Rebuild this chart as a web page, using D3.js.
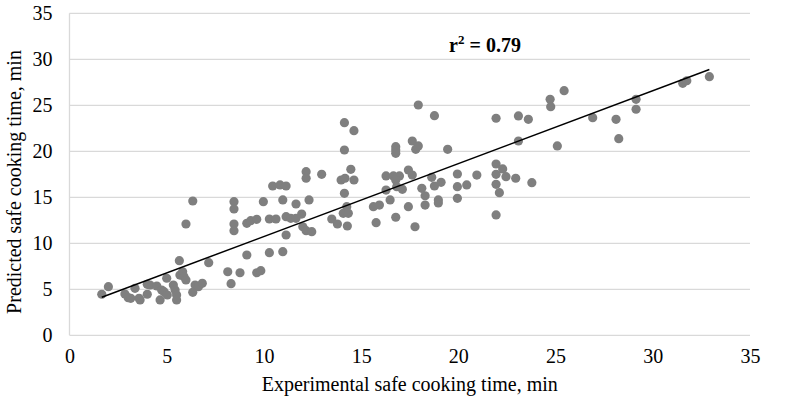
<!DOCTYPE html>
<html>
<head>
<meta charset="utf-8">
<script src="https://cdn.jsdelivr.net/npm/d3@7/dist/d3.min.js"></script>
<style>
html,body{margin:0;padding:0;background:#fff;}
svg{display:block;}
</style>
</head>
<body>
<svg id="chart" width="800" height="403"></svg>
<script>
// Experimental (x) and predicted (y) safe cooking times, min
const experimental = [
1.66,2.00,2.85,3.02,3.15,3.37,3.58,3.63,4.00,4.00,4.14,4.49,4.66,4.74,4.86,5.00,5.03,5.34,5.43,5.51,
5.51,5.65,5.68,5.82,5.89,5.99,6.34,6.46,6.63,6.83,7.16,8.14,8.31,8.77,6.34,5.99,8.46,8.46,8.46,8.46,
9.12,9.32,9.63,9.97,10.28,10.62,10.45,10.83,11.14,10.97,11.14,11.38,11.65,11.94,11.65,12.00,12.17,12.17,12.32,12.97,
13.49,13.78,14.14,14.63,14.14,13.97,14.17,14.47,14.63,14.14,14.26,14.08,14.34,14.29,15.63,15.94,15.77,16.28,16.66,16.97,
16.28,16.49,16.78,16.78,16.78,16.78,16.83,17.12,16.78,17.43,17.43,12.17,12.46,11.14,9.12,10.28,10.97,9.63,9.84,
17.94,18.77,17.63,17.81,17.94,19.45,17.63,18.12,18.29,18.29,18.63,18.77,19.11,18.97,18.97,19.95,19.95,19.95,20.43,20.95,
21.94,21.94,21.94,22.28,22.45,21.94,22.11,22.95,23.09,23.60,23.09,23.78,24.72,24.75,25.44,25.09,21.94,17.77,
26.91,28.11,28.25,29.14,29.14,31.54,31.75,32.91
];
const predicted = [
4.46,5.28,4.49,4.09,4.02,5.11,4.02,3.84,4.46,5.54,5.47,5.36,3.84,4.92,4.74,6.20,4.38,5.47,4.92,4.38,
3.84,8.11,6.55,6.91,6.37,6.01,4.67,5.47,5.28,5.65,7.89,6.91,5.61,6.80,14.60,12.10,14.52,13.73,12.10,11.37,
12.17,12.46,12.61,14.52,12.64,12.64,16.23,16.34,16.23,14.71,12.89,12.72,12.72,13.18,14.27,11.80,17.78,17.07,14.71,17.50,
12.64,12.10,23.11,22.24,20.14,16.88,17.07,18.04,16.88,15.43,13.98,13.26,13.26,11.88,13.98,14.16,12.24,17.32,17.32,17.32,
15.79,14.71,20.50,20.14,19.78,16.88,16.15,15.87,12.83,17.97,13.98,11.37,11.26,10.90,8.73,8.98,9.09,6.80,7.02,
25.03,23.87,21.12,20.22,20.58,20.22,17.42,15.98,15.17,14.16,17.17,16.23,16.63,14.71,14.38,17.53,16.15,14.89,16.34,17.42,
23.59,18.62,17.50,18.08,17.24,16.41,15.50,17.07,23.84,23.48,21.12,16.59,25.65,24.85,26.59,20.58,13.08,11.80,
23.65,23.48,21.37,25.65,24.57,27.39,27.67,28.11
];
const xTicks = [0,5,10,15,20,25,30,35];
const yTicks = [0,5,10,15,20,25,30,35];
const trendSlope = 0.792;
const trendIntercept = 2.82;
const r2Label = "0.79";

const svg = d3.select("#chart");
const margin = {left:69.5, right:50, top:13.3, bottom:67.7};
const W = 800, H = 403;
const x = d3.scaleLinear().domain([0,35]).range([margin.left, W - margin.right]);
const y = d3.scaleLinear().domain([0,35]).range([H - margin.bottom, margin.top]);

const font = "'Liberation Serif','Times New Roman',serif";

// gridlines
svg.append("g").selectAll("line").data(yTicks).join("line")
  .attr("x1", x(0)).attr("x2", x(35))
  .attr("y1", d => y(d)).attr("y2", d => y(d))
  .attr("stroke", "#d9d9d9").attr("stroke-width", 1.3);
// left axis line
svg.append("line").attr("x1", x(0)).attr("x2", x(0)).attr("y1", y(0)).attr("y2", y(35))
  .attr("stroke", "#d9d9d9").attr("stroke-width", 1.3);

// y tick labels
const yAxis = d3.axisLeft(y).tickValues(yTicks).tickSize(0).tickPadding(17);
const gy = svg.append("g").attr("transform", `translate(${x(0)},0)`).call(yAxis);
gy.select(".domain").remove();
gy.selectAll("text").attr("font-family", font).attr("font-size", 20).attr("fill", "#000");

// x tick labels
const xAxis = d3.axisBottom(x).tickValues(xTicks).tickSize(0).tickPadding(14);
const gx = svg.append("g").attr("transform", `translate(0,${y(0)})`).call(xAxis);
gx.select(".domain").remove();
gx.selectAll("text").attr("font-family", font).attr("font-size", 20).attr("fill", "#000");

// points
const pts = experimental.map((v,i) => ({x:v, y:predicted[i]}));
svg.append("g").selectAll("circle").data(pts).join("circle")
  .attr("cx", d => x(d.x)).attr("cy", d => y(d.y)).attr("r", 4.6)
  .attr("fill", "#7f7f7f");

// trend line
const xMin = d3.min(experimental), xMax = d3.max(experimental);
svg.append("line")
  .attr("x1", x(xMin)).attr("y1", y(trendSlope*xMin + trendIntercept))
  .attr("x2", x(xMax)).attr("y2", y(trendSlope*xMax + trendIntercept))
  .attr("stroke", "#000").attr("stroke-width", 1.5);

// r² label
const t = svg.append("text").attr("x", 485).attr("y", 52).attr("text-anchor", "middle")
  .attr("font-family", font).attr("font-size", 20).attr("font-weight", "bold");
t.append("tspan").text("r");
t.append("tspan").attr("font-size", 13).attr("dy", -8).text("2");
t.append("tspan").attr("dy", 8).text(" = " + r2Label);

// axis titles
svg.append("text").attr("x", (x(0)+x(35))/2).attr("y", 391).attr("text-anchor", "middle")
  .attr("font-family", font).attr("font-size", 20).text("Experimental safe cooking time, min");
svg.append("text").attr("transform", `translate(21,182) rotate(-90)`).attr("text-anchor", "middle")
  .attr("font-family", font).attr("font-size", 20).text("Predicted safe cooking time, min");
</script>
</body>
</html>
